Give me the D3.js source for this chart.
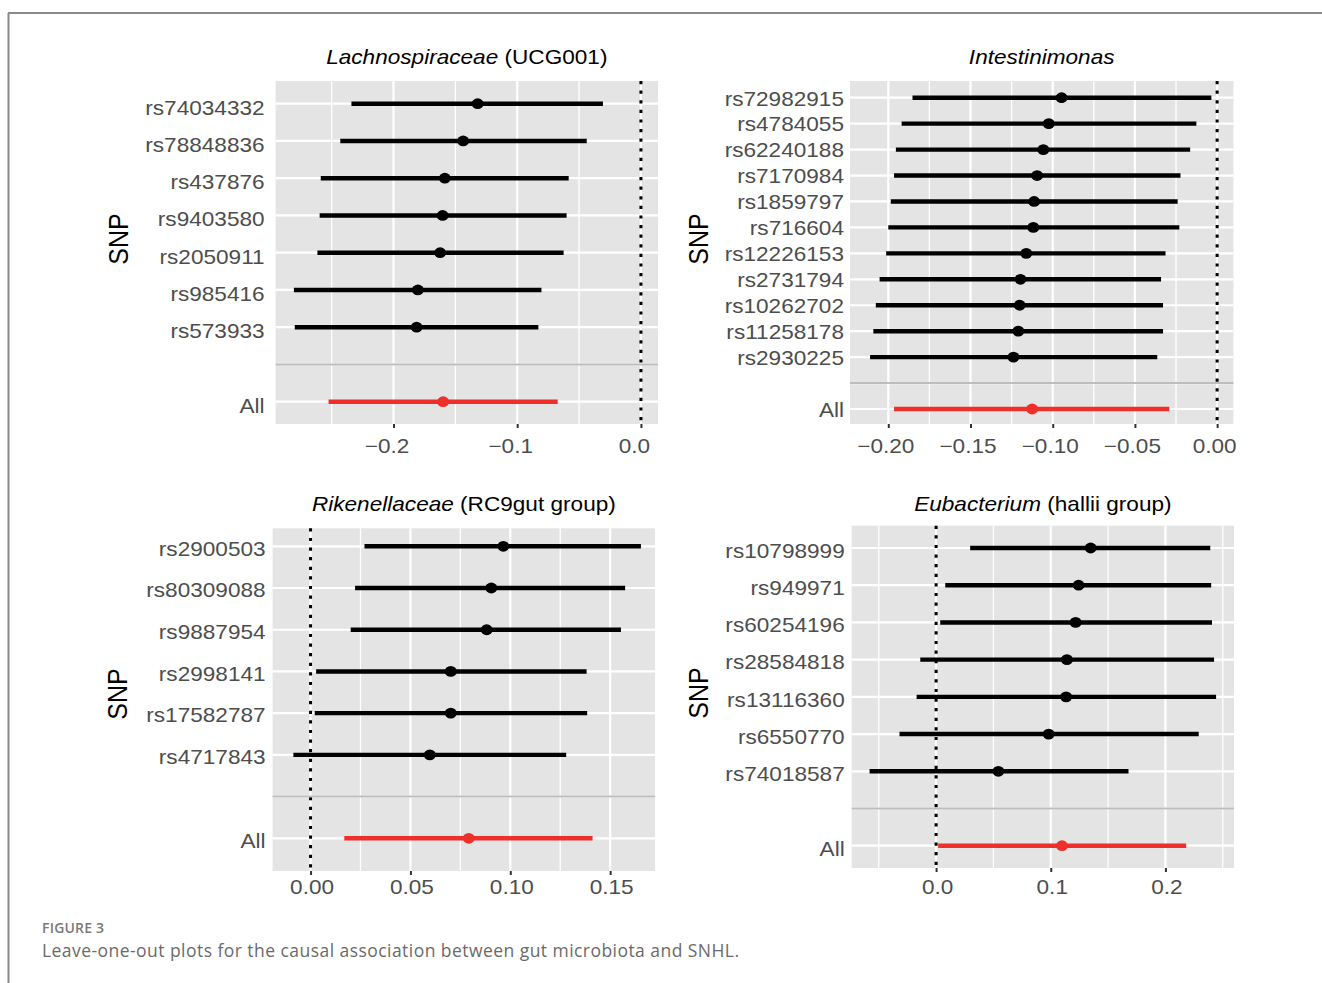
<!DOCTYPE html>
<html lang="en">
<head>
    <meta charset="UTF-8">
    <title>Leave-one-out plots</title>
    <script src="https://d3js.org/d3.v7.min.js"></script>
    <style>
        body { margin: 0; background: #fff; }
        svg text { font-family: "Liberation Sans", Arial, sans-serif; }
        svg text.caption { font-family: "Open Sans", sans-serif; }
    </style>
</head>
<body>
<svg id="fig" width="1322" height="983"></svg>
<script>
    // Lachnospiraceae (UCG001)
    var snps1 = ["rs74034332", "rs78848836", "rs437876", "rs9403580", "rs2050911", "rs985416", "rs573933", "All"];
    var b1  = [-0.132, -0.1437, -0.1585, -0.1603, -0.1623, -0.1803, -0.1813, -0.1599];
    var lo1 = [-0.234, -0.243, -0.2588, -0.2597, -0.2615, -0.2805, -0.2798, -0.2525];
    var up1 = [-0.0307, -0.0438, -0.0584, -0.0601, -0.0625, -0.0804, -0.0829, -0.0673];
    var ticks1 = [-0.2, -0.1, 0.0];

    // Intestinimonas
    var snps2 = ["rs72982915", "rs4784055", "rs62240188", "rs7170984", "rs1859797", "rs716604", "rs12226153", "rs2731794", "rs10262702", "rs11258178", "rs2930225", "All"];
    var b2  = [-0.0946, -0.1024, -0.1057, -0.1095, -0.1113, -0.1118, -0.1161, -0.1196, -0.1201, -0.1209, -0.1239, -0.1125];
    var lo2 = [-0.1853, -0.1919, -0.1954, -0.1965, -0.1985, -0.2000, -0.2013, -0.2053, -0.2076, -0.2091, -0.2111, -0.1965];
    var up2 = [-0.0035, -0.0126, -0.0164, -0.0223, -0.0240, -0.0230, -0.0314, -0.0341, -0.0329, -0.0329, -0.0364, -0.0291];
    var ticks2 = [-0.20, -0.15, -0.10, -0.05, 0.00];

    // Rikenellaceae (RC9gut group)
    var snps3 = ["rs2900503", "rs80309088", "rs9887954", "rs2998141", "rs17582787", "rs4717843", "All"];
    var b3  = [0.0965, 0.0905, 0.0882, 0.0702, 0.0702, 0.0597, 0.0792];
    var lo3 = [0.0270, 0.0223, 0.0201, 0.0028, 0.0021, -0.0086, 0.0169];
    var up3 = [0.1654, 0.1575, 0.1554, 0.1382, 0.1385, 0.1280, 0.1412];
    var ticks3 = [0.00, 0.05, 0.10, 0.15];

    // Eubacterium (hallii group)
    var snps4 = ["rs10798999", "rs949971", "rs60254196", "rs28584818", "rs13116360", "rs6550770", "rs74018587", "All"];
    var b4  = [0.1348, 0.1243, 0.1217, 0.1141, 0.1134, 0.0982, 0.0543, 0.1098];
    var lo4 = [0.0297, 0.0080, 0.0036, -0.0138, -0.0170, -0.0319, -0.0580, 0.0018];
    var up4 = [0.2391, 0.2399, 0.2406, 0.2424, 0.2442, 0.2290, 0.1678, 0.2181];
    var ticks4 = [0.0, 0.1, 0.2];

    var svg = d3.select("#fig");
    var stretch = 1.13;   // the figure text is a bit wider than plain Arial

    // frame of the figure
    svg.append("line").attr("x1", 8).attr("x2", 1322).attr("y1", 13).attr("y2", 13)
        .attr("stroke", "#8a8a8a").attr("stroke-width", 2);
    svg.append("line").attr("x1", 8.5).attr("x2", 8.5).attr("y1", 13).attr("y2", 983)
        .attr("stroke", "#8a8a8a").attr("stroke-width", 2);

    var panels = [
        {genus: "Lachnospiraceae", rest: " (UCG001)", snps: snps1, b: b1, lo: lo1, up: up1, ticks: ticks1, fmt: ".1f",
         left: 275.6, right: 658, top: 81, bottom: 424, yFirst: 103.7, yLast: 401.7, xDomain: [-0.2953, 0.0138],
         titleY: 64, snpX: 118, snpY: 239, labelGap: 11, labelDy: 10.3, tickGap: 29, tickDx: -7},
        {genus: "Intestinimonas", rest: "", snps: snps2, b: b2, lo: lo2, up: up2, ticks: ticks2, fmt: ".2f",
         left: 850, right: 1233.4, top: 81, bottom: 424, yFirst: 97.7, yLast: 409, xDomain: [-0.2233, 0.0099],
         titleY: 64, snpX: 698, snpY: 239, labelGap: 6, labelDy: 7.3, tickGap: 29, tickDx: -3},
        {genus: "Rikenellaceae", rest: " (RC9gut group)", snps: snps3, b: b3, lo: lo3, up: up3, ticks: ticks3, fmt: ".2f",
         left: 272.6, right: 655.1, top: 528.3, bottom: 871, yFirst: 546.3, yLast: 838.3, xDomain: [-0.0190, 0.1725],
         titleY: 510.7, snpX: 117, snpY: 694, labelGap: 7, labelDy: 8.7, tickGap: 23, tickDx: 1},
        {genus: "Eubacterium", rest: " (hallii group)", snps: snps4, b: b4, lo: lo4, up: up4, ticks: ticks4, fmt: ".1f",
         left: 851.7, right: 1234, top: 525.7, bottom: 868, yFirst: 548, yLast: 845.7, xDomain: [-0.0736, 0.2598],
         titleY: 510.7, snpX: 698, snpY: 693, labelGap: 7, labelDy: 9.3, tickGap: 26, tickDx: 1}
    ];

    panels.forEach(drawPanel);

    function drawPanel(p) {
        // SNP rows, then a blank row for the separator, then "All"
        var rows = p.snps.slice(0, -1).concat(["", "All"]);
        var data = p.snps.map((s, i) => ({snp: s, b: p.b[i], lo: p.lo[i], up: p.up[i]}));

        var x = d3.scaleLinear().domain(p.xDomain).range([p.left, p.right]);
        var y = d3.scalePoint().domain(rows).range([p.yFirst, p.yLast]);

        var g = svg.append("g");

        g.append("rect")
            .attr("x", p.left).attr("y", p.top)
            .attr("width", p.right - p.left).attr("height", p.bottom - p.top)
            .attr("fill", "#e4e4e4");

        // minor grid halfway between the major ticks
        var step = p.ticks[1] - p.ticks[0];
        var minor = p.ticks.map(t => t - step / 2).concat([p.ticks[p.ticks.length - 1] + step / 2])
            .filter(t => t > p.xDomain[0] && t < p.xDomain[1]);

        g.selectAll(".minor").data(minor).enter().append("line")
            .attr("x1", d => x(d)).attr("x2", d => x(d))
            .attr("y1", p.top).attr("y2", p.bottom)
            .attr("stroke", "#fff").attr("stroke-width", 1.3);

        g.selectAll(".major").data(p.ticks).enter().append("line")
            .attr("x1", d => x(d)).attr("x2", d => x(d))
            .attr("y1", p.top).attr("y2", p.bottom)
            .attr("stroke", "#fff").attr("stroke-width", 2.2);

        g.selectAll(".hgrid").data(rows).enter().append("line")
            .attr("x1", p.left).attr("x2", p.right)
            .attr("y1", d => y(d)).attr("y2", d => y(d))
            .attr("stroke", "#fff").attr("stroke-width", 2.2);

        // zero line
        g.append("line")
            .attr("x1", x(0)).attr("x2", x(0))
            .attr("y1", p.top).attr("y2", p.bottom)
            .attr("stroke", "#000").attr("stroke-width", 3)
            .attr("stroke-dasharray", "3.2,6.4");

        // error bars
        g.selectAll(".bar").data(data).enter().append("line")
            .attr("x1", d => x(d.lo)).attr("x2", d => x(d.up))
            .attr("y1", d => y(d.snp)).attr("y2", d => y(d.snp))
            .attr("stroke", d => d.snp == "All" ? "#ee2f2a" : "#000")
            .attr("stroke-width", 4.4);

        g.selectAll(".dot").data(data).enter().append("ellipse")
            .attr("cx", d => x(d.b)).attr("cy", d => y(d.snp))
            .attr("rx", 6).attr("ry", 5.4)
            .attr("fill", d => d.snp == "All" ? "#ee2f2a" : "#000");

        // separator above "All"
        g.append("line")
            .attr("x1", p.left).attr("x2", p.right)
            .attr("y1", y("")).attr("y2", y(""))
            .attr("stroke", "#bdbdbd").attr("stroke-width", 2);

        // x axis
        var xAxis = g.append("g")
            .attr("transform", "translate(0," + p.bottom + ")")
            .call(d3.axisBottom(x).tickValues(p.ticks).tickFormat(d3.format(p.fmt)).tickSize(4));
        xAxis.select(".domain").remove();
        xAxis.selectAll(".tick line").attr("stroke", "#333").attr("stroke-width", 2);
        xAxis.selectAll(".tick text")
            .attr("y", null).attr("dy", null)
            .attr("transform", "translate(" + p.tickDx + "," + p.tickGap + ") scale(" + stretch + ",1)")
            .attr("fill", "#4d4d4d").style("font-size", "20px");

        // y axis
        var yAxis = g.append("g")
            .attr("transform", "translate(" + p.left + ",0)")
            .call(d3.axisLeft(y).tickSize(0));
        yAxis.select(".domain").remove();
        yAxis.selectAll(".tick text")
            .attr("x", null).attr("dy", null)
            .attr("transform", "translate(" + (-p.labelGap) + "," + p.labelDy + ") scale(" + stretch + ",1)")
            .attr("fill", "#4d4d4d").style("font-size", "20px");

        // title
        var title = g.append("text")
            .attr("text-anchor", "middle")
            .attr("transform", "translate(" + ((p.left + p.right) / 2) + "," + p.titleY + ") scale(" + stretch + ",1)")
            .style("font-size", "20px").attr("fill", "#000");
        title.append("tspan").style("font-style", "italic").text(p.genus);
        if (p.rest) title.append("tspan").text(p.rest);

        // axis title
        g.append("text")
            .attr("text-anchor", "middle")
            .attr("transform", "translate(" + p.snpX + "," + p.snpY + ") scale(" + stretch + ",1) rotate(-90)")
            .attr("dy", "0.36em")
            .style("font-size", "25px").attr("fill", "#000")
            .text("SNP");
    }

    // caption
    svg.append("text").attr("class", "caption")
        .attr("x", 42).attr("y", 933)
        .style("font-size", "14px").style("font-weight", 600).style("letter-spacing", "0.2px")
        .attr("fill", "#7a7a7a")
        .text("FIGURE 3");
    svg.append("text").attr("class", "caption")
        .attr("x", 42).attr("y", 957)
        .style("font-size", "17.5px").style("letter-spacing", "0.45px")
        .attr("fill", "#6a6a6a")
        .text("Leave-one-out plots for the causal association between gut microbiota and SNHL.");
</script>
</body>
</html>
